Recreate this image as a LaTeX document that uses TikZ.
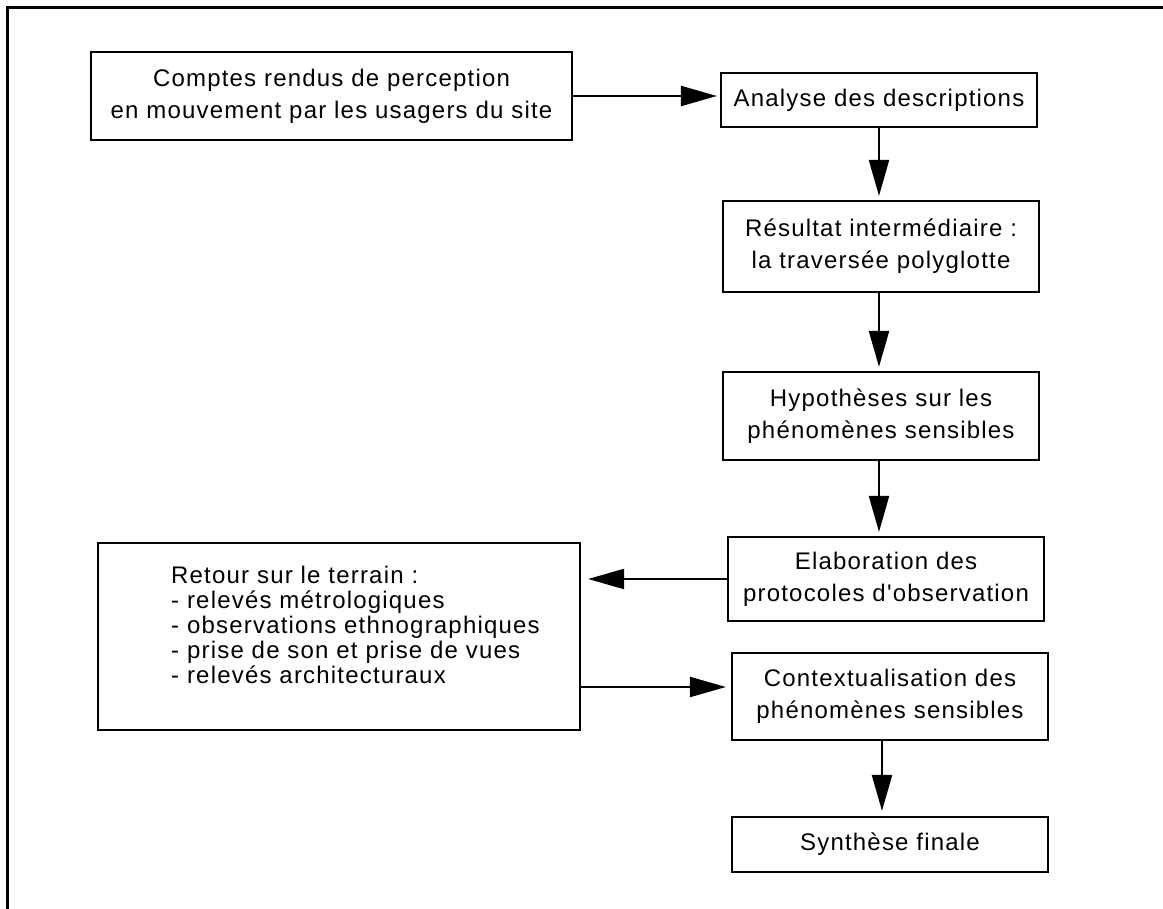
\documentclass[tikz,border=0pt]{standalone}
\usepackage{fontspec}
\setmainfont{Liberation Sans}[LetterSpace=5,Ligatures=TeXOff]
\usetikzlibrary{arrows.meta}
\begin{document}
\begin{tikzpicture}[x=1pt,y=-1pt,
  box/.style={draw,line width=2.2pt,inner sep=0pt,align=center,font=\fontsize{24}{32}\selectfont},
  listtext/.style={inner sep=0pt,align=left,font=\fontsize{24}{25}\selectfont},
  arr/.style={line width=2.2pt,-{Triangle[length=36pt,width=20pt]}}]
\useasboundingbox (0,0) rectangle (1163,909);
\draw[line width=2.8pt] (7.5,909) -- (7.5,7.5) -- (1163,7.5);
\node[box,minimum width=481pt,minimum height=88pt] (b1) at (331.5,96) {Comptes rendus de perception\\en mouvement par les usagers du site};
\node[box,minimum width=316pt,minimum height=54pt] (b2) at (879,100) {Analyse des descriptions};
\node[box,minimum width=316pt,minimum height=91pt] (b3) at (881,246.5) {Résultat intermédiaire :\\la traversée polyglotte};
\node[box,minimum width=316pt,minimum height=88pt] (b4) at (881,416) {Hypothèses sur les\\phénomènes sensibles};
\node[box,minimum width=316pt,minimum height=84pt] (b5) at (886,579) {Elaboration des\\protocoles d'observation};
\node[box,minimum width=482pt,minimum height=187pt] (b6) at (339,636.5) {};
\node[listtext,anchor=base west] (t6) at (171,683) {Retour sur le terrain :\\- relevés métrologiques\\- observations ethnographiques\\- prise de son et prise de vues\\- relevés architecturaux};
\node[box,minimum width=316pt,minimum height=87pt] (b7) at (890,696.5) {Contextualisation des\\phénomènes sensibles};
\node[box,minimum width=316pt,minimum height=55pt] (b8) at (890,844.5) {Synthèse finale};
\coordinate (y7) at ([yshift=9.5pt]b7.west);
\draw[arr,shorten >=3pt] (b1.east) -- (b2.west |- b1.east);
\draw[arr,shorten >=4pt] (b2.south) -- (b2.south |- b3.north);
\draw[arr,shorten >=4pt] ([xshift=-2pt]b3.south) -- ([xshift=-2pt]b3.south |- b4.north);
\draw[arr,shorten >=4pt] ([xshift=-2pt]b4.south) -- ([xshift=-2pt]b4.south |- b5.north);
\draw[arr,shorten >=7pt] (b5.west) -- (b6.east |- b5.west);
\draw[arr,shorten >=5pt] (b6.east |- y7) -- (y7);
\draw[arr,shorten >=5pt] ([xshift=-8pt]b7.south) -- ([xshift=-8pt]b7.south |- b8.north);
\end{tikzpicture}
\end{document}
